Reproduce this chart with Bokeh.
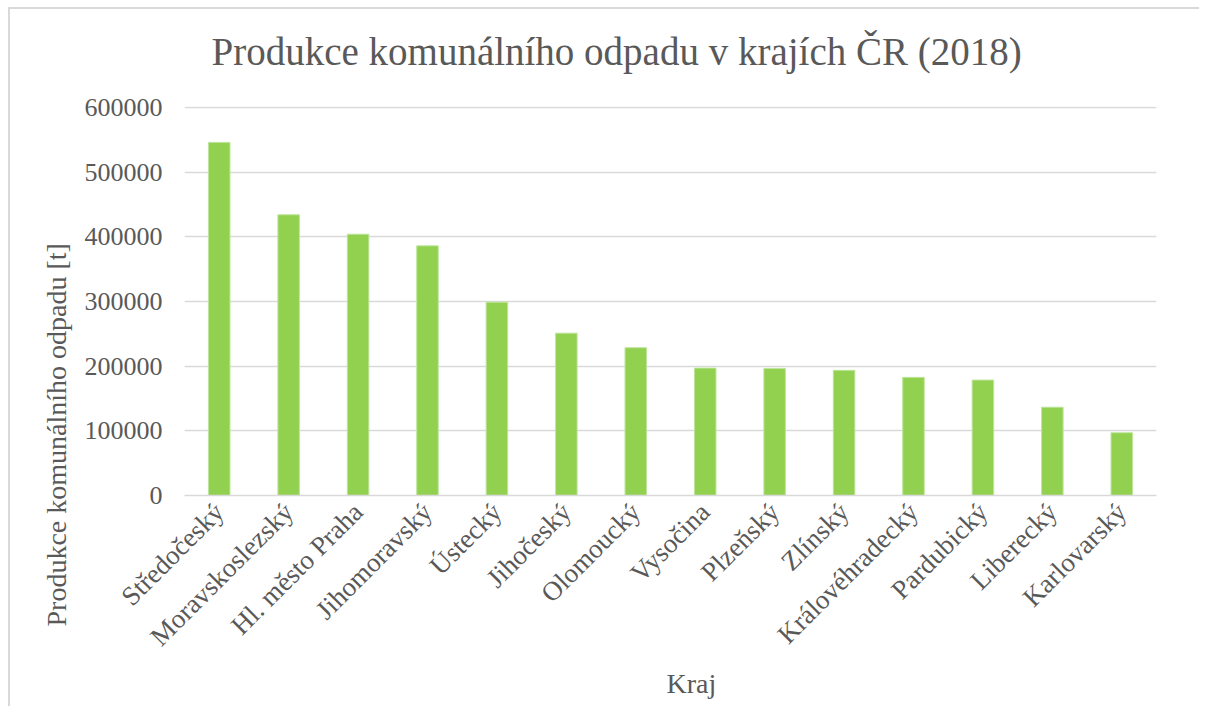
import math
from bokeh.plotting import figure
from bokeh.models import Range1d, FactorRange, FixedTicker, BasicTickFormatter, Title, ColumnDataSource
from bokeh.embed import file_html
from bokeh.resources import INLINE

regions = ["Středočeský", "Moravskoslezský", "Hl. město Praha", "Jihomoravský", "Ústecký",
           "Jihočeský", "Olomoucký", "Vysočina", "Plzeňský", "Zlínský",
           "Královéhradecký", "Pardubický", "Liberecký", "Karlovarský"]
waste_t = [546000, 434000, 404000, 386000, 299000, 251000, 228500, 197000,
           196500, 193500, 182700, 178500, 136500, 97000]
y_ticks = [0, 100000, 200000, 300000, 400000, 500000, 600000]

TITLE = "Produkce komunálního odpadu v krajích ČR (2018)"
Y_TITLE = "Produkce komunálního odpadu [t]"
X_TITLE = "Kraj"

FONT = "Liberation Serif"
GRAY = "#595959"

W, H = 1191, 699
FL, FT, FB, FR = 174, 97, 486, 1146   # frame edges in figure coords
src = ColumnDataSource(dict(x=regions, y=waste_t))

p = figure(width=W, height=H, output_backend="svg", toolbar_location=None,
           x_range=FactorRange(*regions, range_padding=0),
           y_range=Range1d(0, 601500),
           min_border_left=FL, min_border_right=W - FR,
           min_border_top=FT, min_border_bottom=H - FB)
p.margin = (7, 0, 0, 8)
p.styles = {"border-left": "2px solid #d9d9d9", "border-top": "2px solid #d9d9d9"}

p.vbar(x="x", top="y", width=0.31, source=src, fill_color="#92D050",
       line_color="#BDE59A", line_width=1)

p.outline_line_color = None
p.xgrid.grid_line_color = None
p.ygrid.grid_line_color = "#D9D9D9"
p.ygrid.grid_line_width = 1.5
p.ygrid.ticker = FixedTicker(ticks=y_ticks)

ya = p.yaxis[0]
ya.ticker = FixedTicker(ticks=y_ticks)
ya.formatter = BasicTickFormatter(use_scientific=False)
ya.axis_line_color = None
ya.major_tick_line_color = None
ya.minor_tick_line_color = None
ya.major_label_standoff = 16
ya.major_label_text_font = FONT
ya.major_label_text_font_size = "26px"
ya.major_label_text_color = GRAY

xa = p.xaxis[0]
xa.axis_line_color = "#D9D9D9"
xa.axis_line_width = 1.5
xa.major_tick_line_color = None
xa.minor_tick_line_color = None
xa.major_label_orientation = math.pi / 4
xa.major_label_standoff = 6
xa.major_label_text_font = FONT
xa.major_label_text_font_size = "27px"
xa.major_label_text_color = GRAY

# spacer between frame and title (nearest the frame comes first)
p.add_layout(Title(text=" ", text_font=FONT, text_font_size="20px", standoff=5), "above")
p.add_layout(Title(text=TITLE, align="left", offset=27, text_font=FONT,
                   text_font_size="39px", text_font_style="normal",
                   text_color=GRAY, standoff=10), "above")
p.add_layout(Title(text=Y_TITLE, align="left", offset=-131, text_font=FONT,
                   text_font_size="28px", text_font_style="normal",
                   text_color=GRAY, standoff=20), "left")
p.add_layout(Title(text=X_TITLE, align="left", offset=482, text_font=FONT,
                   text_font_size="28px", text_font_style="normal",
                   text_color=GRAY, standoff=0), "below")

open("out.html", "w").write(file_html(p, INLINE))
